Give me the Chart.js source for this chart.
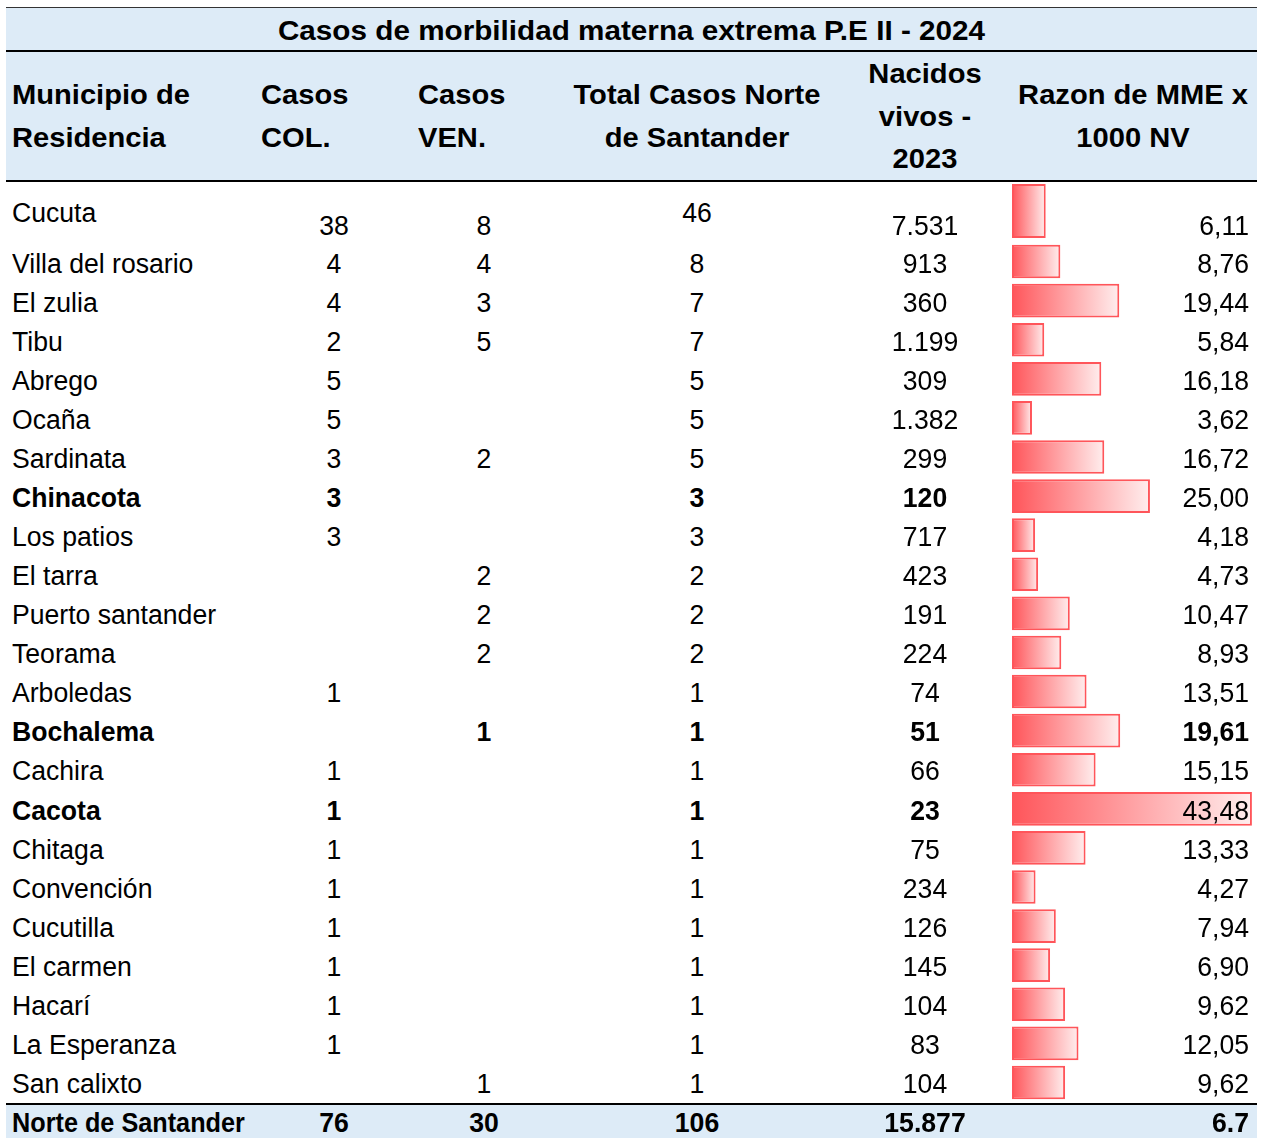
<!DOCTYPE html>
<html>
<head>
<meta charset="utf-8">
<title>Casos de morbilidad materna extrema P.E II - 2024</title>
<script src="https://cdn.jsdelivr.net/npm/chart.js@4.4.1/dist/chart.umd.min.js"></script>
<style>
  html, body { margin: 0; padding: 0; background: #fff; }
  body { width: 1267px; height: 1138px; position: relative; overflow: hidden;
         font-family: "Liberation Sans", Arial, sans-serif;
         font-size: 27px; color: #000; }
  .band { position: absolute; left: 6px; width: 1251px; background: #ddebf7; }
  .rule { position: absolute; left: 6px; width: 1251px; background: #000; }
  .cell { position: absolute; height: 39px; line-height: 39px; white-space: nowrap; overflow: hidden; }
  .hdr { position: absolute; font-size: 28px; font-weight: bold; line-height: 42.5px; white-space: nowrap; }
  .b { font-weight: bold; }
  canvas { position: absolute; }
</style>
</head>
<body>

<div class="band" style="top:8px;height:42px;"></div>
<div class="band" style="top:52px;height:128px;"></div>
<div class="band" style="top:1105px;height:33px;"></div>
<div class="rule" style="top:7px;height:1px;background:#333;"></div>
<div class="rule" style="top:50px;height:2px;"></div>
<div class="rule" style="top:180px;height:2px;"></div>
<div class="rule" style="top:1103px;height:2px;"></div>

<canvas id="firstBar" width="245" height="60" style="left:1012px;top:181px;"></canvas>
<canvas id="restBars" width="245" height="860" style="left:1012px;top:241.5px;"></canvas>

<div id="table"></div>

<script>
"use strict";

var title = "Casos de morbilidad materna extrema P.E II - 2024";

var municipios = ["Cucuta", "Villa del rosario", "El zulia", "Tibu", "Abrego", "Ocaña", "Sardinata",
    "Chinacota", "Los patios", "El tarra", "Puerto santander", "Teorama", "Arboledas", "Bochalema",
    "Cachira", "Cacota", "Chitaga", "Convención", "Cucutilla", "El carmen", "Hacarí", "La Esperanza",
    "San calixto"];
var casosCol = [38, 4, 4, 2, 5, 5, 3, 3, 3, null, null, null, 1, null, 1, 1, 1, 1, 1, 1, 1, 1, null];
var casosVen = [8, 4, 3, 5, null, null, 2, null, null, 2, 2, 2, null, 1, null, null, null, null, null, null, null, null, 1];
var totalCasos = [46, 8, 7, 7, 5, 5, 5, 3, 3, 2, 2, 2, 1, 1, 1, 1, 1, 1, 1, 1, 1, 1, 1];
var nacidosVivos = [7531, 913, 360, 1199, 309, 1382, 299, 120, 717, 423, 191, 224, 74, 51, 66, 23, 75, 234, 126, 145, 104, 83, 104];
var razonMME = [6.11, 8.76, 19.44, 5.84, 16.18, 3.62, 16.72, 25.00, 4.18, 4.73, 10.47, 8.93, 13.51, 19.61,
    15.15, 43.48, 13.33, 4.27, 7.94, 6.90, 9.62, 12.05, 9.62];

var boldRows = ["Chinacota", "Bochalema", "Cacota"];
var boldRazon = ["Bochalema"];

var totalLabel = "Norte de Santander";
var totalCol = 76;
var totalVen = 30;
var totalNorte = 106;
var totalNacidos = 15877;
var totalRazon = "6.7";

var barRed = "rgb(255, 85, 90)";

function thousands(n) {
    return String(n).replace(/\B(?=(\d{3})+(?!\d))/g, ".");
}

function comma(n) {
    return n.toFixed(2).replace(".", ",");
}

var table = document.getElementById("table");

function place(d, left, width, align, y, sx) {
    d.style.left = left + "px";
    d.style.width = width + "px";
    d.style.top = y + "px";
    d.style.textAlign = align;
    d.style.transform = "scaleX(" + sx + ")";
    d.style.transformOrigin = align === "left" ? "left center" : (align === "right" ? "right center" : "center center");
    table.appendChild(d);
}

function cell(text, left, width, align, y, bold, sx) {
    if (text === null || text === undefined) return;
    var d = document.createElement("div");
    d.className = "cell" + (bold ? " b" : "");
    d.textContent = text;
    place(d, left, width, align, y, sx || 0.985);
}

function header(lines, left, width, align, y) {
    var d = document.createElement("div");
    d.className = "hdr";
    d.innerHTML = lines.join("<br>");
    place(d, left, width, align, y, 1.04);
}

// Title and headers
var t = document.createElement("div");
t.className = "hdr";
t.style.lineHeight = "44px";
t.textContent = title;
place(t, 6, 1251, "center", 9, 1.06);

header(["Municipio de", "Residencia"], 12, 300, "left", 74);
header(["Casos", "COL."], 261, 160, "left", 74);
header(["Casos", "VEN."], 418, 160, "left", 74);
header(["Total Casos Norte", "de Santander"], 547, 300, "center", 74);
header(["Nacidos", "vivos -", "2023"], 825, 200, "center", 53);
header(["Razon de MME x", "1000 NV"], 1008, 250, "center", 74);

// Rows
for (var i = 0; i < municipios.length; i++) {
    var rowY, nameY, totalY;
    if (i === 0) {
        rowY = 207; nameY = 194; totalY = 194;
    } else {
        rowY = 244.8 + (i - 1) * 39.05; nameY = rowY; totalY = rowY;
    }
    var bold = boldRows.indexOf(municipios[i]) >= 0;
    cell(municipios[i], 12, 300, "left", nameY, bold);
    cell(casosCol[i], 284, 100, "center", rowY, bold);
    cell(casosVen[i], 434, 100, "center", rowY, bold);
    cell(totalCasos[i], 597, 200, "center", totalY, bold);
    cell(thousands(nacidosVivos[i]), 825, 200, "center", rowY, bold);
    cell(comma(razonMME[i]), 1100, 149, "right", rowY, boldRazon.indexOf(municipios[i]) >= 0);
}

// Total row (label squeezed into its column)
var ty = 1104;
cell(totalLabel, 12, 300, "left", ty, true, 0.935);
cell(totalCol, 284, 100, "center", ty, true);
cell(totalVen, 434, 100, "center", ty, true);
cell(totalNorte, 597, 200, "center", ty, true);
cell(thousands(totalNacidos), 825, 200, "center", ty, true);
cell(totalRazon, 1100, 149, "right", ty, true);

// Data bars
function barFill(context) {
    var chart = context.chart;
    var x = chart.scales.x;
    if (!chart.chartArea || !x) return barRed;
    var x0 = x.getPixelForValue(0);
    var x1 = x.getPixelForValue(context.raw);
    if (x1 - x0 < 1) return barRed;
    var g = chart.ctx.createLinearGradient(x0, 0, x1, 0);
    g.addColorStop(0, barRed);
    g.addColorStop(1, "rgb(255, 238, 238)");
    return g;
}

function createDataBars(elem, labels, values, barPct) {
    var config = {
        type: "bar",
        data: {
            labels: labels,
            datasets: [{
                data: values,
                backgroundColor: barFill,
                borderColor: barRed,
                borderWidth: 2,
                borderSkipped: false,
                categoryPercentage: 1,
                barPercentage: barPct
            }]
        },
        options: {
            indexAxis: "y",
            responsive: false,
            animation: false,
            layout: { padding: 0 },
            plugins: { legend: { display: false }, tooltip: { enabled: false } },
            scales: {
                x: { display: false, min: 0, max: 44.4 },
                y: { display: false }
            }
        }
    };
    return new Chart(document.getElementById(elem).getContext("2d"), config);
}

createDataBars("firstBar", municipios.slice(0, 1), razonMME.slice(0, 1), 0.9);
createDataBars("restBars", municipios.slice(1), razonMME.slice(1), 0.86);
</script>
</body>
</html>
